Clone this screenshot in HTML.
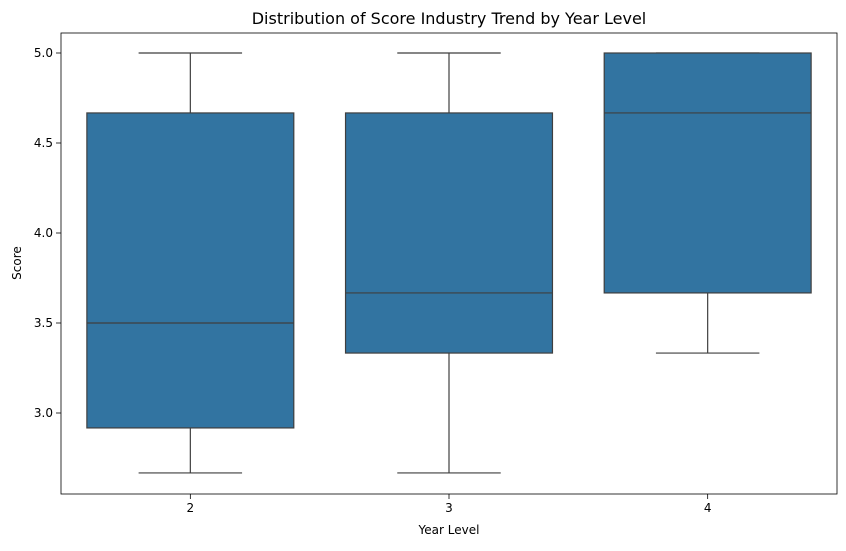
<!DOCTYPE html>
<html><head><meta charset="utf-8"><style>
body{margin:0;background:#fff;font-family:"DejaVu Sans","Liberation Sans",sans-serif}
</style></head><body>
<svg id="chart" width="846" height="547" font-family="DejaVu Sans, Liberation Sans, sans-serif"></svg>
<script>
const categories=["2","3","4"];
const whiskerLow=[2.667,2.667,3.333];
const q1=[2.917,3.333,3.667];
const medians=[3.5,3.667,4.667];
const q3=[4.667,4.667,5.0];
const whiskerHigh=[5.0,5.0,5.0];
const yTicks=[3.0,3.5,4.0,4.5,5.0];
const yTickLabels=["3.0","3.5","4.0","4.5","5.0"];

const L=61,R=837,T=33,B=494;
const ymin=2.55,ymax=5.1111;
const y=v=>B-(v-ymin)/(ymax-ymin)*(B-T);
const step=(R-L)/categories.length;
const x=i=>L+step*(i+0.5);
const svg=document.getElementById('chart');
const NS='http://www.w3.org/2000/svg';
function mk(tag,a,p){const e=document.createElementNS(NS,tag);for(const k in a)e.setAttribute(k,a[k]);(p||svg).appendChild(e);return e;}

const t=mk('text',{x:449,y:24,'text-anchor':'middle','font-size':16,fill:'#000'});


t.textContent='Distribution of Score Industry Trend by Year Level';

categories.forEach((c,i)=>{
  const g=mk('g',{});
  
  
  const cx=x(i),w=step*0.8,cap=w/2;
  mk('line',{x1:cx,x2:cx,y1:y(whiskerLow[i]),y2:y(q1[i]),stroke:'#3f3f3f','stroke-width':1.2},g);
  mk('line',{x1:cx,x2:cx,y1:y(q3[i]),y2:y(whiskerHigh[i]),stroke:'#3f3f3f','stroke-width':1.2},g);
  mk('line',{x1:cx-cap/2,x2:cx+cap/2,y1:y(whiskerLow[i]),y2:y(whiskerLow[i]),stroke:'#3f3f3f','stroke-width':1.2},g);
  mk('line',{x1:cx-cap/2,x2:cx+cap/2,y1:y(whiskerHigh[i]),y2:y(whiskerHigh[i]),stroke:'#3f3f3f','stroke-width':1.2},g);
  mk('rect',{x:cx-w/2,y:y(q3[i]),width:w,height:y(q1[i])-y(q3[i]),fill:'#3274a1',stroke:'#3f3f3f','stroke-width':1.2},g);
  mk('line',{x1:cx-w/2,x2:cx+w/2,y1:y(medians[i]),y2:y(medians[i]),stroke:'#3f3f3f','stroke-width':1.2},g);
  mk('line',{x1:cx,x2:cx,y1:B,y2:B+5,stroke:'#000','stroke-width':0.8});
  const tl=mk('text',{x:cx,y:B+18,'text-anchor':'middle','font-size':12});
  
  
  tl.textContent=c;
});
yTicks.forEach((v,i)=>{
  mk('line',{x1:L-5,x2:L,y1:y(v),y2:y(v),stroke:'#000','stroke-width':0.8});
  const tl=mk('text',{x:L-8,y:y(v)+4,'text-anchor':'end','font-size':12});
  
  
  tl.textContent=yTickLabels[i];
});
const frame=mk('rect',{x:L,y:T,width:R-L,height:B-T,fill:'none',stroke:'#000','stroke-width':0.8});


const xl=mk('text',{x:449,y:534,'text-anchor':'middle','font-size':12});


xl.textContent='Year Level';
const yl=mk('text',{x:21,y:263,'text-anchor':'middle','font-size':12,transform:'rotate(-90 21 263)'});


yl.textContent='Score';
</script>
</body></html>
